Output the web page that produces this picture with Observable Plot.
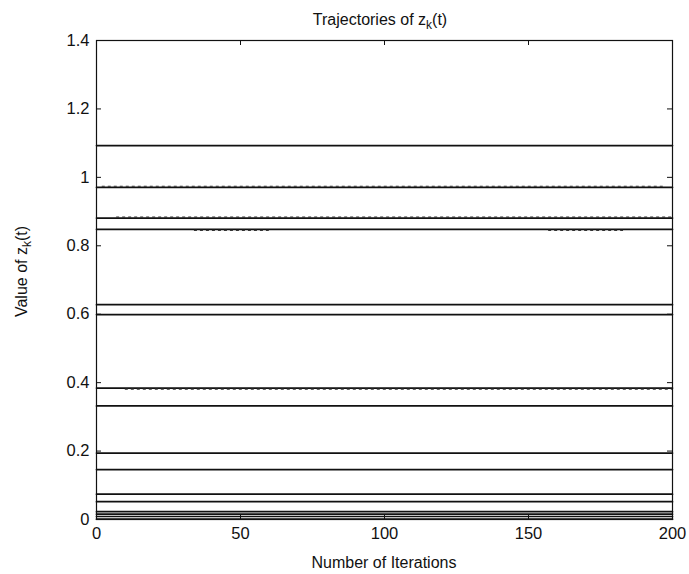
<!DOCTYPE html>
<html>
<head>
<meta charset="utf-8">
<script src="https://cdn.jsdelivr.net/npm/d3@7"></script>
<script src="https://cdn.jsdelivr.net/npm/@observablehq/plot@0.6"></script>
<style>
  html, body { margin: 0; padding: 0; background: #fff; }
  #chart { width: 689px; height: 574px; }
</style>
</head>
<body>
<div id="chart"></div>
<script>
// Final values of each trajectory z_k(t)
const zValues = [1.093, 0.971, 0.881, 0.848, 0.628, 0.599, 0.384, 0.332,
                 0.194, 0.146, 0.074, 0.052, 0.023, 0.0155, 0.0088, 0.001];
const tStart = 0;
const tEnd = 200;

// Segments where a trajectory oscillates slightly around its value
const oscBase  = [0.971, 0.881, 0.848, 0.848, 0.384];
const oscSwing = [0.003, 0.003, -0.003, -0.003, -0.003];
const oscFrom  = [2, 7, 34, 157, 10];
const oscTo    = [197, 200, 60, 183, 200];

const xTicks = [0, 50, 100, 150, 200];
const yTicks = [0, 0.2, 0.4, 0.6, 0.8, 1, 1.2, 1.4];

const lineRows = zValues.flatMap((z, k) => [
  {k, t: tStart, z},
  {k, t: tEnd, z}
]);
const oscRows = oscBase.map((b, i) => ({
  z: b + oscSwing[i], t1: oscFrom[i], t2: oscTo[i]
}));

const W = 689, H = 574;
const mL = 96, mR = 17, mT = 40, mB = 55;
const iw = W - mL - mR, ih = H - mT - mB;
const font = "'Liberation Sans', Arial, Helvetica, sans-serif";

const chart = Plot.plot({
  width: W,
  height: H,
  marginLeft: mL,
  marginRight: mR,
  marginTop: mT,
  marginBottom: mB,
  style: {fontFamily: font, fontSize: "16px", background: "#fff", color: "#111"},
  x: {domain: [0, 200]},
  y: {domain: [0, 1.4]},
  marks: [
    Plot.line(lineRows, {x: "t", y: "z", z: "k", stroke: "#111", strokeWidth: 1.7}),
    Plot.ruleY(oscRows, {y: "z", x1: "t1", x2: "t2", stroke: "#333", strokeWidth: 1.2, strokeDasharray: "3,3"}),
    Plot.frame({stroke: "#111", strokeWidth: 1.2}),
    Plot.tickY(yTicks, {y: d => d, insetRight: iw - 5, stroke: "#111"}),
    Plot.tickY(yTicks, {y: d => d, insetLeft: iw - 5, stroke: "#111"}),
    Plot.tickX(xTicks, {x: d => d, insetTop: ih - 5, stroke: "#111"}),
    Plot.tickX(xTicks, {x: d => d, insetBottom: ih - 5, stroke: "#111"}),
    Plot.axisY(yTicks, {tickSize: 0, tickPadding: 7, label: null, tickFormat: d => String(+d.toFixed(1)), fontSize: 16.5}),
    Plot.axisX(xTicks, {tickSize: 0, tickPadding: 8, label: null, fontSize: 16.5})
  ]
});

const svg = d3.select(chart);
// Title
const title = svg.append("text")
  .attr("x", mL + iw / 2 - 4).attr("y", 25)
  .attr("text-anchor", "middle")
  .attr("font-family", font).attr("font-size", 16).attr("fill", "#111");
title.append("tspan").text("Trajectories of z");
title.append("tspan").attr("font-size", 12).attr("dy", 4).text("k");
title.append("tspan").attr("dy", -4).text("(t)");

// X label
svg.append("text")
  .attr("x", mL + iw / 2).attr("y", H - 6)
  .attr("text-anchor", "middle")
  .attr("font-family", font).attr("font-size", 16).attr("fill", "#111")
  .text("Number of Iterations");

// Y label
const yl = svg.append("text")
  .attr("transform", `translate(27,${mT + ih / 2 - 8}) rotate(-90)`)
  .attr("text-anchor", "middle")
  .attr("font-family", font).attr("font-size", 16).attr("fill", "#111");
yl.append("tspan").text("Value of z");
yl.append("tspan").attr("font-size", 12).attr("dy", 4).text("k");
yl.append("tspan").attr("dy", -4).text("(t)");

document.getElementById("chart").appendChild(chart);
</script>
</body>
</html>
